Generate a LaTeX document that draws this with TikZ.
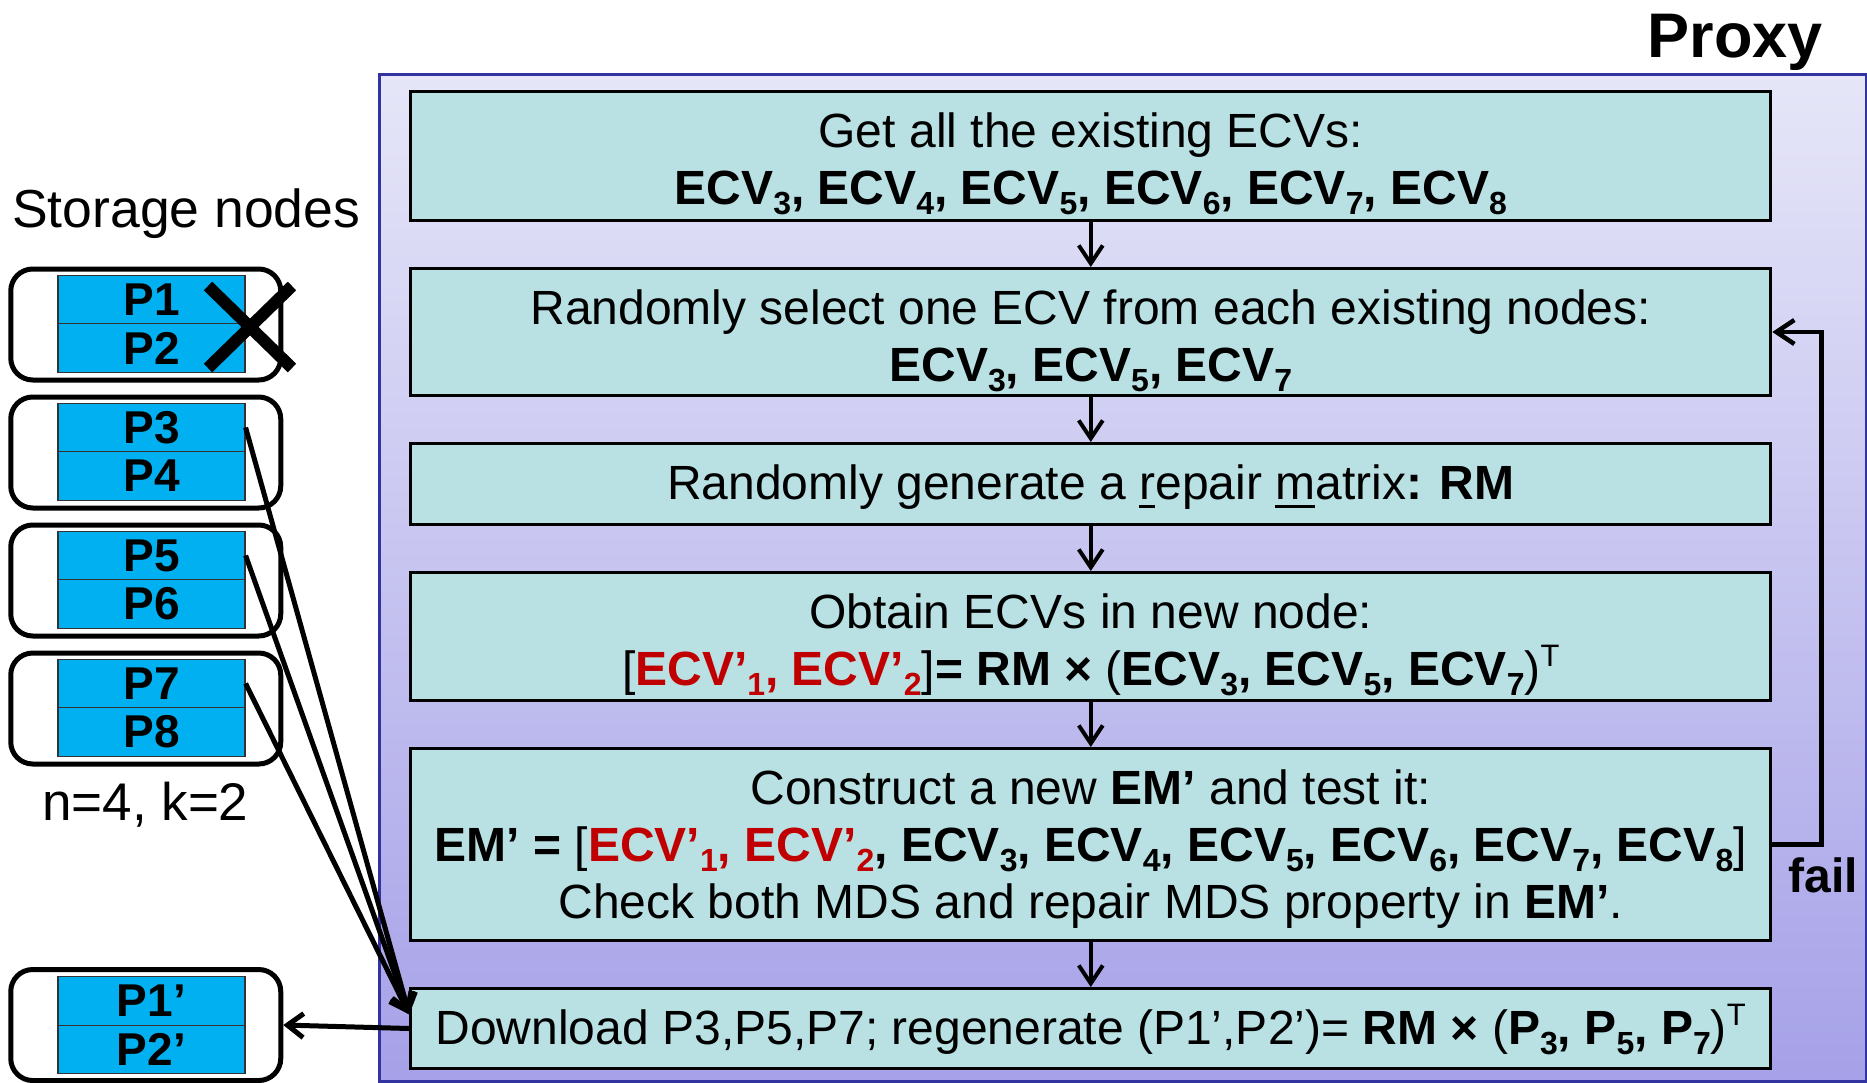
\documentclass[tikz,border=0pt]{standalone}
\usepackage{fontspec}
\setmainfont{Liberation Sans}
\usetikzlibrary{arrows.meta,calc}
\definecolor{boxfill}{RGB}{185,224,227}
\definecolor{proxytop}{RGB}{230,230,248}
\definecolor{proxybot}{RGB}{166,161,232}
\definecolor{proxyline}{RGB}{50,50,160}
\definecolor{pblue}{RGB}{0,176,240}
\definecolor{ecvred}{RGB}{192,0,0}
\newcommand\sbs[1]{\raisebox{-10pt}{\fontsize{32}{32}\selectfont #1}}
\newcommand\sps[1]{\raisebox{19pt}{\fontsize{31}{31}\selectfont\mdseries #1}}
\newcommand\ulc[1]{\setbox0\hbox{#1}\rlap{\rule[-9pt]{\wd0}{3pt}}\box0}
\tikzset{
  proxybox/.style={draw=proxyline, line width=2.5pt, top color=proxytop, bottom color=proxybot, inner sep=0pt, anchor=north west},
  flowbox/.style={draw=black, line width=3pt, fill=boxfill, minimum width=1360pt, inner sep=0pt, anchor=north},
  txt/.style={inner sep=0pt, anchor=base, font=\fontsize{48}{57}\selectfont},
  snode/.style={draw=black, line width=5pt, rounded corners=22pt, minimum width=270pt, minimum height=111pt, inner sep=0pt},
  pcell/.style={draw=black!80, line width=1.2pt, fill=pblue, minimum width=187pt, minimum height=48.5pt, inner sep=0pt, font=\fontsize{46}{46}\selectfont\bfseries},
  flow/.style={draw=black, line width=4pt, -{Straight Barb[length=18pt,width=24pt]}},
  conn/.style={draw=black, line width=5pt, -{Straight Barb[length=16pt,width=24pt]}},
}
\begin{document}
\begin{tikzpicture}[x=1pt,y=-1pt]
\useasboundingbox (0,0) rectangle (1867,1082);
% proxy area
\node[proxybox, minimum width=1487pt, minimum height=1007pt] (proxy) at (378,73) {};
\node[anchor=base east, inner sep=0pt, font=\fontsize{63}{63}\selectfont\bfseries] (proxylbl) at (1823,57) {Proxy};
% flow boxes
\node[flowbox, minimum height=129pt] (b1) at (1090.75,90) {};
\node[flowbox, minimum height=127pt] (b2) at (1090.75,267) {};
\node[flowbox, minimum height=81pt] (b3) at (1090.75,442) {};
\node[flowbox, minimum height=128pt] (b4) at (1090.75,571) {};
\node[flowbox, minimum height=192pt] (b5) at (1090.75,747) {};
\node[flowbox, minimum height=80pt] (b6) at (1090.75,987) {};
% texts
\node[txt] (b1a) at (1090.75,147) {Get all the existing ECVs:};
\node[txt] (b1b) at (1090.75,204) {\bfseries ECV\sbs{3}, ECV\sbs{4}, ECV\sbs{5}, ECV\sbs{6}, ECV\sbs{7}, ECV\sbs{8}};
\node[txt] (b2a) at (1090.75,324) {Randomly select one ECV from each existing nodes:};
\node[txt] (b2b) at (1090.75,381) {\bfseries ECV\sbs{3}, ECV\sbs{5}, ECV\sbs{7}};
\node[txt] (b3a) at (1090.75,499) {Randomly generate a \ulc{r}epair \ulc{m}atrix\textbf{: RM}};
\node[txt] (b4a) at (1090.75,628) {Obtain ECVs in new node:};
\node[txt] (b4b) at (1090.75,685) {[\textcolor{ecvred}{\bfseries ECV’\sbs{1}, ECV’\sbs{2}}]\textbf{= RM × }(\textbf{ECV\sbs{3}, ECV\sbs{5}, ECV\sbs{7}})\sps{T}};
\node[txt] (b5a) at (1090.75,804) {Construct a new \textbf{EM’} and test it:};
\node[txt] (b5b) at (1090.75,861) {\textbf{EM’ = }[\textcolor{ecvred}{\bfseries ECV’\sbs{1}, ECV’\sbs{2}}\textbf{, ECV\sbs{3}, ECV\sbs{4}, ECV\sbs{5}, ECV\sbs{6}, ECV\sbs{7}, ECV\sbs{8}}]};
\node[txt] (b5c) at (1090.75,918) {Check both MDS and repair MDS property in \textbf{EM’}.};
\node[txt] (b6a) at (1090.75,1044) {Download P3,P5,P7; regenerate (P1’,P2’)= \textbf{RM ×} (\textbf{P\sbs{3}, P\sbs{5}, P\sbs{7}})\sps{T}};
% flow arrows
\draw[flow] (b1.south) -- (b2.north);
\draw[flow] (b2.south) -- (b3.north);
\draw[flow] (b3.south) -- (b4.north);
\draw[flow] (b4.south) -- (b5.north);
\draw[flow] (b5.south) -- (b6.north);
\draw[flow, line width=4.5pt] (b5.east) -- ++(49,0) |- (b2.east);
\node[anchor=base, inner sep=0pt, font=\fontsize{48}{48}\selectfont\bfseries] (faillbl) at (1823,892) {fail};
% storage nodes
\node[anchor=base west, inner sep=0pt, font=\fontsize{53.5}{53.5}\selectfont] (stlbl) at (12,227) {Storage nodes};
\node[snode] (s1) at (145.75,324.5) {};
\node[snode] (s2) at (145.75,452.5) {};
\node[snode] (s3) at (145.75,580.5) {};
\node[snode] (s4) at (145.75,708.5) {};
\node[snode] (s5) at (145.75,1025) {};
\node[pcell] (p1) at (151.5,299.5) {P1};
\node[pcell] (p2) at (151.5,348) {P2};
\node[pcell] (p3) at (151.5,427.5) {P3};
\node[pcell] (p4) at (151.5,476) {P4};
\node[pcell] (p5) at (151.5,555.5) {P5};
\node[pcell] (p6) at (151.5,604) {P6};
\node[pcell] (p7) at (151.5,683.5) {P7};
\node[pcell] (p8) at (151.5,732) {P8};
\node[pcell] (p1n) at (151.5,1001) {P1’};
\node[pcell] (p2n) at (151.5,1049.5) {P2’};
\node[anchor=base west, inner sep=0pt, font=\fontsize{53}{53}\selectfont] (nklbl) at (42,820) {n=4, k=2};
% failed node cross
\draw[line width=12pt] (208,286) -- (292,368);
\draw[line width=12pt] (292,286) -- (208,368);
% connectors
\coordinate (dlin) at ($(b6.north west)!0.33!(b6.south west)$);
\draw[conn] (p3.east) -- (dlin);
\draw[conn] (p5.east) -- (dlin);
\draw[conn] (p7.east) -- (dlin);
\draw[conn] (b6.west) -- (s5.east);
\end{tikzpicture}
\end{document}
